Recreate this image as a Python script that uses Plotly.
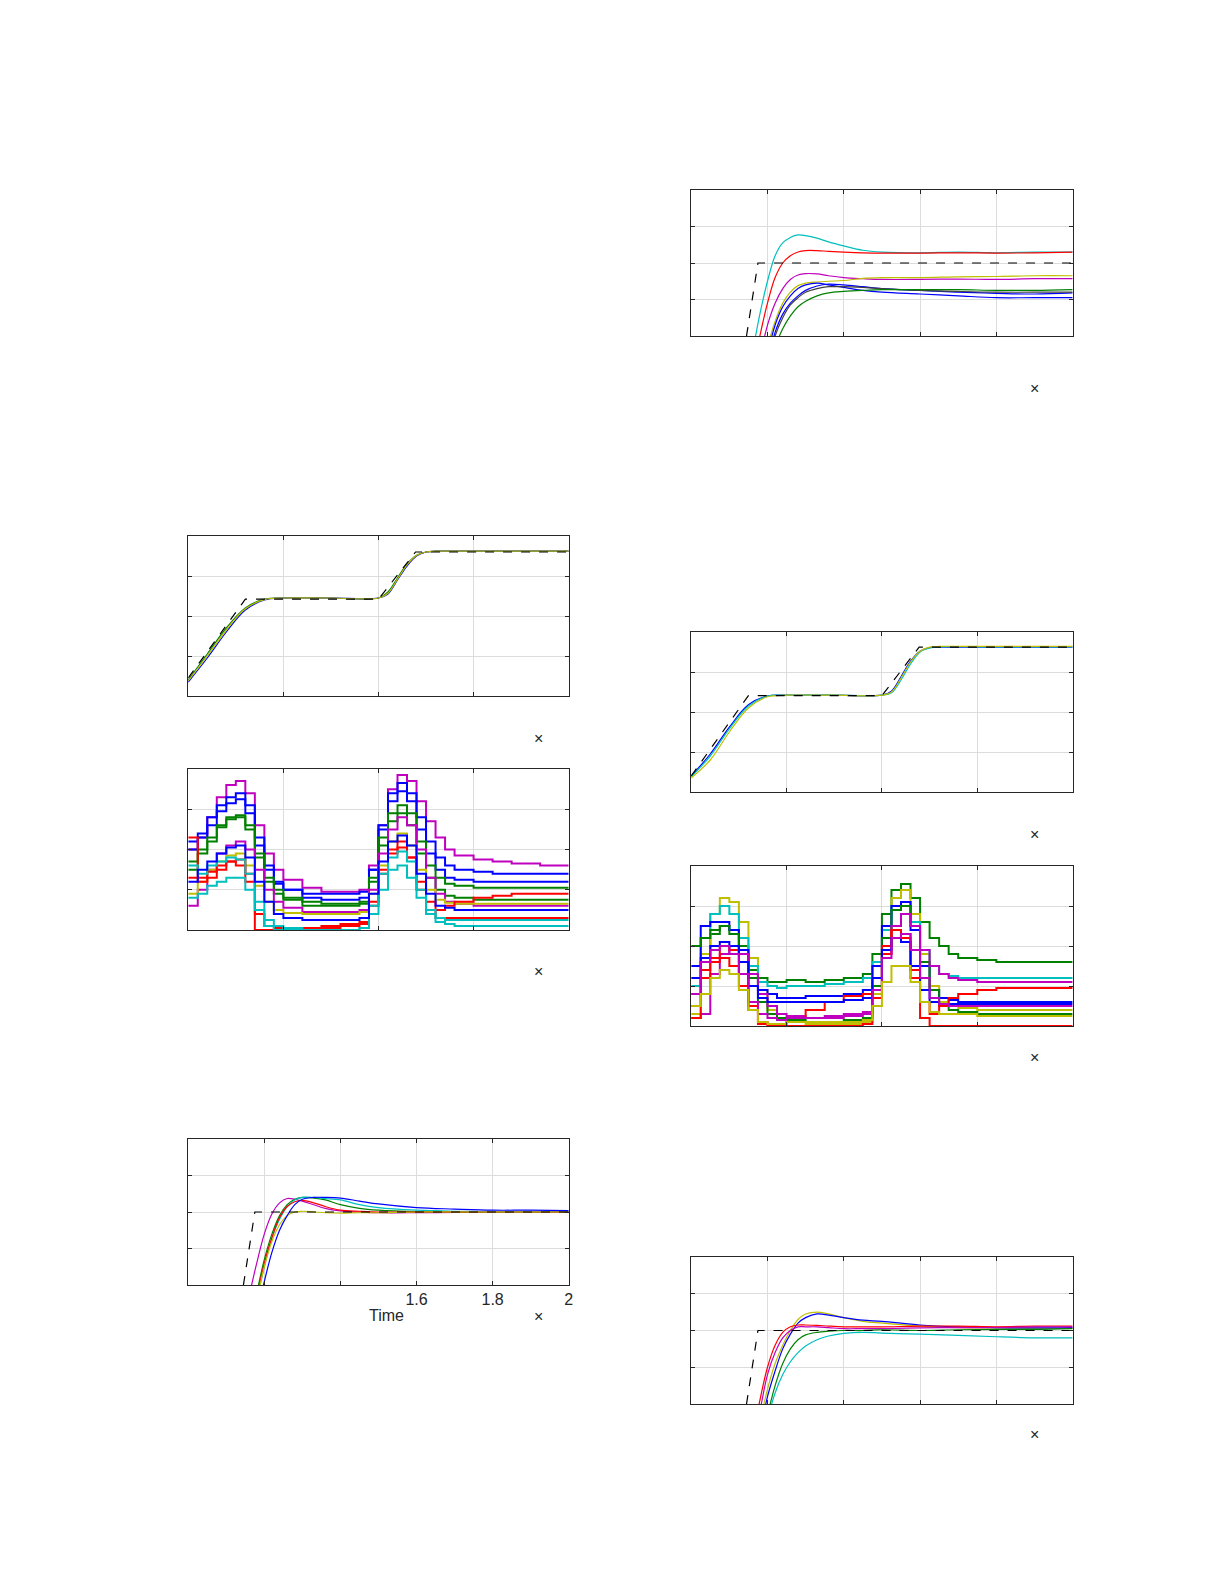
import plotly.graph_objects as go

W, H = 1225, 1585

# Colours (MATLAB-ish)
BLUE = "#0000FF"
GREEN = "#008000"
RED = "#FF0000"
CYAN = "#00BFBF"
MAGENTA = "#BF00BF"
YELLOW = "#BFBF00"
GREY = "#404040"

# ---- data -----------------------------------------------------------------
# position tracking panels (left P1, right P5)
X_POS = [0, 0.2, 0.4, 0.6, 0.8, 1.0, 1.5, 2.0, 2.1, 2.2, 2.3, 2.4, 2.5, 2.6, 3.0, 4.0]
REF_POS_X = [0, 0.6, 2.0, 2.39, 4.0]
REF_POS_Y = [0.45, 2.42, 2.42, 3.6, 3.6]
P1_GREEN = [0.4, 1.05, 1.7, 2.2, 2.42, 2.45, 2.45, 2.45, 2.6, 2.95, 3.3, 3.52, 3.6, 3.62, 3.62, 3.62]
P1_BLUE = [0.35, 0.95, 1.6, 2.15, 2.4, 2.45, 2.45, 2.45, 2.55, 2.9, 3.25, 3.5, 3.6, 3.62, 3.62, 3.62]
P1_YELLOW = [0.38, 1.0, 1.65, 2.18, 2.41, 2.45, 2.45, 2.45, 2.57, 2.92, 3.28, 3.51, 3.6, 3.62, 3.62, 3.62]
P5_YELLOW = [0.35, 0.8, 1.5, 2.1, 2.38, 2.42, 2.42, 2.42, 2.5, 2.85, 3.25, 3.52, 3.62, 3.64, 3.64, 3.64]
P5_CYAN = [0.38, 0.9, 1.58, 2.15, 2.4, 2.42, 2.42, 2.42, 2.48, 2.8, 3.2, 3.5, 3.6, 3.63, 3.63, 3.63]
P5_BLUE = [0.4, 0.95, 1.62, 2.18, 2.4, 2.42, 2.42, 2.42, 2.52, 2.88, 3.27, 3.52, 3.61, 3.62, 3.62, 3.62]
P5_REF_Y = [0.4, 2.41, 2.41, 3.62, 3.62]

# stepped control-signal panels (left P2, right P6)
X_STEP = [0, 0.1, 0.2, 0.3, 0.4, 0.5, 0.6, 0.7, 0.8, 0.9, 1.0, 1.2, 1.4, 1.6, 1.8, 1.9,
          2.0, 2.1, 2.2, 2.3, 2.4, 2.5, 2.6, 2.7, 2.8, 3.0, 3.2, 3.4, 3.7, 4.0]
P2_SERIES = [
    (MAGENTA, [2.0, 2.3, 2.8, 3.3, 3.6, 3.7, 3.4, 2.6, 1.9, 1.5, 1.25, 1.05, 0.95, 0.95, 1.0, 1.6, 2.6, 3.5, 3.85, 3.7, 3.2, 2.7, 2.3, 2.0, 1.85, 1.75, 1.7, 1.65, 1.6, 1.6]),
    (BLUE, [2.2, 2.4, 2.8, 3.1, 3.3, 3.4, 3.1, 2.3, 1.6, 1.2, 1.0, 0.8, 0.75, 0.75, 0.8, 1.5, 2.6, 3.4, 3.65, 3.4, 2.8, 2.2, 1.8, 1.6, 1.5, 1.45, 1.4, 1.4, 1.4, 1.4]),
    (BLUE, [2.0, 2.3, 2.6, 2.95, 3.15, 3.25, 2.9, 2.1, 1.5, 1.15, 1.0, 0.9, 0.9, 0.9, 0.95, 1.5, 2.5, 3.2, 3.45, 3.2, 2.5, 1.9, 1.5, 1.3, 1.25, 1.2, 1.2, 1.2, 1.2, 1.2]),
    (GREEN, [1.7, 2.0, 2.3, 2.6, 2.8, 2.85, 2.6, 1.9, 1.3, 1.0, 0.8, 0.7, 0.65, 0.65, 0.7, 1.3, 2.3, 2.9, 3.1, 2.9, 2.2, 1.6, 1.3, 1.15, 1.1, 1.05, 1.05, 1.05, 1.05, 1.05]),
    (GREEN, [1.5, 1.9, 2.2, 2.55, 2.75, 2.8, 2.5, 1.8, 1.2, 0.9, 0.75, 0.6, 0.6, 0.6, 0.65, 1.2, 2.1, 2.7, 2.9, 2.6, 1.9, 1.3, 1.0, 0.85, 0.8, 0.75, 0.75, 0.75, 0.75, 0.75]),
    (MAGENTA, [0.6, 1.0, 1.5, 1.9, 2.1, 2.2, 2.0, 1.5, 1.0, 0.7, 0.55, 0.45, 0.45, 0.45, 0.5, 1.0, 1.9, 2.5, 2.8, 2.6, 2.0, 1.3, 0.9, 0.7, 0.65, 0.6, 0.6, 0.6, 0.6, 0.6]),
    (YELLOW, [0.9, 1.2, 1.5, 1.7, 1.85, 1.9, 1.6, 1.1, 0.7, 0.5, 0.42, 0.4, 0.4, 0.4, 0.45, 0.9, 1.6, 2.2, 2.4, 2.1, 1.5, 1.0, 0.75, 0.68, 0.65, 0.65, 0.65, 0.65, 0.65, 0.65]),
    (RED, [2.3, 1.2, 1.3, 1.5, 1.7, 1.75, 1.4, 0.0, 0.0, 0.0, 0.0, 0.0, 0.05, 0.1, 0.15, 0.7, 1.5, 2.0, 2.2, 1.8, 1.0, 0.5, 0.3, 0.3, 0.3, 0.3, 0.3, 0.3, 0.3, 0.3]),
    (RED, [1.3, 1.3, 1.45, 1.6, 1.7, 1.6, 1.2, 0.4, 0.1, 0.05, 0.05, 0.05, 0.1, 0.15, 0.2, 0.6, 1.4, 1.9, 2.05, 1.8, 1.2, 0.7, 0.5, 0.6, 0.7, 0.8, 0.85, 0.9, 0.9, 0.9]),
    (CYAN, [0.8, 0.9, 1.1, 1.2, 1.3, 1.3, 1.0, 0.5, 0.1, 0.0, 0.0, 0.0, 0.0, 0.0, 0.05, 0.4, 1.0, 1.5, 1.6, 1.3, 0.8, 0.4, 0.2, 0.15, 0.1, 0.1, 0.1, 0.1, 0.1, 0.1]),
    (CYAN, [1.6, 1.4, 1.6, 1.7, 1.8, 1.75, 1.4, 0.7, 0.25, 0.1, 0.05, 0.0, 0.0, 0.0, 0.05, 0.6, 1.4, 1.8, 1.95, 1.7, 1.0, 0.5, 0.3, 0.25, 0.25, 0.25, 0.25, 0.25, 0.25, 0.25]),
    (BLUE, [1.2, 1.5, 1.7, 1.9, 2.05, 2.1, 1.8, 1.2, 0.7, 0.4, 0.3, 0.25, 0.25, 0.25, 0.3, 0.9, 1.7, 2.2, 2.35, 2.1, 1.4, 0.9, 0.6, 0.55, 0.5, 0.5, 0.5, 0.5, 0.5, 0.5]),
]
P6_SERIES = [
    (GREEN, [0.5, 1.6, 2.3, 2.5, 2.4, 2.0, 1.4, 1.2, 1.1, 1.1, 1.15, 1.1, 1.15, 1.2, 1.3, 1.8, 2.8, 3.4, 3.55, 3.2, 2.6, 2.2, 2.0, 1.8, 1.7, 1.65, 1.6, 1.6, 1.6, 1.6]),
    (YELLOW, [0.3, 1.8, 2.8, 3.2, 3.1, 2.6, 1.7, 0.9, 0.4, 0.2, 0.1, 0.05, 0.05, 0.05, 0.1, 0.8, 2.2, 3.2, 3.4, 2.8, 1.8, 1.0, 0.6, 0.5, 0.45, 0.4, 0.4, 0.4, 0.4, 0.4]),
    (CYAN, [1.0, 2.2, 2.8, 3.0, 2.8, 2.2, 1.5, 1.1, 1.0, 0.95, 1.0, 1.0, 1.05, 1.1, 1.2, 1.6, 2.4, 3.0, 3.1, 2.6, 1.9, 1.5, 1.3, 1.25, 1.2, 1.2, 1.2, 1.2, 1.2, 1.2]),
    (BLUE, [1.5, 2.5, 2.6, 2.6, 2.4, 1.9, 1.2, 0.9, 0.8, 0.7, 0.7, 0.75, 0.75, 0.8, 0.9, 1.5, 2.5, 3.0, 3.1, 2.4, 1.5, 0.9, 0.7, 0.65, 0.6, 0.6, 0.6, 0.6, 0.6, 0.6]),
    (GREEN, [2.0, 2.2, 2.4, 2.5, 2.3, 1.8, 1.2, 0.6, 0.3, 0.2, 0.15, 0.1, 0.1, 0.15, 0.2, 1.0, 2.2, 2.9, 3.0, 2.5, 1.6, 0.9, 0.5, 0.4, 0.35, 0.3, 0.3, 0.3, 0.3, 0.3]),
    (MAGENTA, [0.2, 0.3, 1.3, 1.8, 2.0, 1.8, 1.3, 0.8, 0.5, 0.3, 0.25, 0.2, 0.2, 0.25, 0.3, 0.9, 1.8, 2.5, 2.8, 2.5, 1.9, 1.5, 1.3, 1.2, 1.15, 1.1, 1.1, 1.1, 1.1, 1.1]),
    (RED, [0.8, 1.4, 1.6, 1.7, 1.5, 1.0, 0.4, 0.05, 0.0, 0.05, 0.2, 0.4, 0.6, 0.75, 0.8, 1.2, 2.0, 2.4, 2.2, 1.4, 0.6, 0.3, 0.5, 0.7, 0.8, 0.9, 0.95, 0.95, 0.95, 0.95]),
    (RED, [0.2, 1.2, 1.7, 2.0, 1.9, 1.3, 0.5, 0.1, 0.0, 0.0, 0.0, 0.0, 0.0, 0.0, 0.05, 0.7, 1.8, 2.4, 2.3, 1.2, 0.2, 0.0, 0.0, 0.0, 0.0, 0.0, 0.0, 0.0, 0.0, 0.0]),
    (BLUE, [1.2, 1.7, 2.0, 2.1, 2.0, 1.6, 1.0, 0.7, 0.6, 0.6, 0.6, 0.6, 0.6, 0.65, 0.7, 1.2, 1.9, 2.2, 2.1, 1.5, 0.9, 0.6, 0.55, 0.55, 0.55, 0.55, 0.55, 0.55, 0.55, 0.55]),
    (MAGENTA, [0.8, 1.6, 1.9, 2.0, 1.8, 1.3, 0.6, 0.3, 0.2, 0.15, 0.2, 0.2, 0.25, 0.3, 0.35, 0.9, 1.7, 2.2, 2.3, 1.9, 1.2, 0.7, 0.55, 0.5, 0.5, 0.5, 0.5, 0.5, 0.5, 0.5]),
    (YELLOW, [0.5, 0.8, 1.2, 1.4, 1.3, 0.9, 0.4, 0.1, 0.05, 0.05, 0.1, 0.1, 0.1, 0.1, 0.15, 0.5, 1.1, 1.5, 1.5, 1.1, 0.6, 0.35, 0.3, 0.3, 0.3, 0.25, 0.25, 0.25, 0.25, 0.25]),
]

# step-response zoom panels (P3 left, P4 and P7 right), time 1.0 .. 2.0
X_ZOOM = [1.16, 1.18, 1.2, 1.22, 1.24, 1.26, 1.28, 1.3, 1.33, 1.36, 1.4, 1.45, 1.5, 1.6, 1.7, 1.8, 1.9, 2.0]
REF_ZOOM_X = [1.145, 1.175, 2.0]
REF_ZOOM_Y = [0, 2, 2]
P3_SERIES = [
    (MAGENTA, [-0.3, 0.6, 1.4, 1.95, 2.25, 2.37, 2.35, 2.3, 2.2, 2.1, 2.03, 2.0, 1.98, 1.98, 1.99, 2.0, 2.0, 2.0]),
    (GREEN, [-1, -0.2, 0.7, 1.4, 1.9, 2.2, 2.35, 2.4, 2.38, 2.33, 2.2, 2.1, 2.05, 2.01, 2.0, 2.0, 2.0, 2.01]),
    (CYAN, [-1.2, -0.4, 0.5, 1.3, 1.8, 2.15, 2.33, 2.4, 2.4, 2.37, 2.33, 2.2, 2.12, 2.05, 2.02, 2.01, 2.01, 2.02]),
    (RED, [-1.1, -0.3, 0.6, 1.3, 1.85, 2.15, 2.28, 2.32, 2.25, 2.15, 2.05, 2.02, 2.0, 2.0, 2.0, 2.0, 2.0, 2.0]),
    (YELLOW, [-1.2, -0.4, 0.5, 1.2, 1.65, 1.9, 2.0, 2.02, 2.0, 1.98, 1.97, 1.98, 1.98, 2.0, 2.0, 2.0, 2.0, 2.0]),
    (BLUE, [-1.6, -0.8, 0.1, 0.9, 1.5, 1.9, 2.2, 2.35, 2.4, 2.4, 2.38, 2.3, 2.22, 2.12, 2.08, 2.05, 2.05, 2.04]),
]
P4_SERIES = [
    (CYAN, [-0.5, 0.6, 1.5, 2.2, 2.55, 2.7, 2.77, 2.75, 2.68, 2.58, 2.47, 2.35, 2.3, 2.28, 2.3, 2.28, 2.3, 2.3]),
    (RED, [-1, 0, 0.9, 1.6, 2.0, 2.2, 2.3, 2.34, 2.34, 2.32, 2.3, 2.28, 2.27, 2.27, 2.28, 2.27, 2.28, 2.3]),
    (MAGENTA, [-1.6, -0.6, 0.3, 0.9, 1.3, 1.55, 1.67, 1.71, 1.7, 1.65, 1.6, 1.57, 1.55, 1.55, 1.56, 1.55, 1.57, 1.57]),
    (YELLOW, [-2.2, -1.2, -0.3, 0.4, 0.9, 1.2, 1.38, 1.45, 1.48, 1.5, 1.52, 1.58, 1.6, 1.6, 1.62, 1.63, 1.65, 1.65]),
    (BLUE, [-2.5, -1.5, -0.5, 0.3, 0.8, 1.1, 1.3, 1.4, 1.45, 1.4, 1.33, 1.25, 1.2, 1.15, 1.1, 1.05, 1.05, 1.05]),
    (BLUE, [-2.7, -1.7, -0.7, 0.1, 0.6, 0.9, 1.1, 1.25, 1.37, 1.42, 1.4, 1.35, 1.3, 1.25, 1.2, 1.17, 1.15, 1.18]),
    (GREY, [-2.8, -1.8, -0.8, 0, 0.5, 0.85, 1.05, 1.2, 1.3, 1.35, 1.35, 1.33, 1.3, 1.25, 1.22, 1.2, 1.2, 1.2]),
    (GREEN, [-3, -2, -1, -0.3, 0.2, 0.55, 0.8, 0.95, 1.1, 1.18, 1.22, 1.25, 1.27, 1.27, 1.27, 1.25, 1.25, 1.27]),
]
P7_SERIES = [
    (CYAN, [-2, -1.2, -0.4, 0.3, 0.8, 1.15, 1.4, 1.58, 1.75, 1.85, 1.92, 1.95, 1.93, 1.9, 1.87, 1.83, 1.8, 1.8]),
    (YELLOW, [-1.5, -0.5, 0.4, 1.1, 1.6, 2.0, 2.3, 2.45, 2.5, 2.45, 2.35, 2.25, 2.2, 2.12, 2.08, 2.07, 2.06, 2.06]),
    (BLUE, [-1.8, -0.8, 0.2, 0.9, 1.5, 1.9, 2.2, 2.35, 2.45, 2.42, 2.35, 2.28, 2.25, 2.15, 2.1, 2.08, 2.07, 2.08]),
    (RED, [-1, 0.1, 1.0, 1.6, 1.95, 2.1, 2.15, 2.15, 2.14, 2.12, 2.1, 2.1, 2.1, 2.12, 2.12, 2.1, 2.12, 2.12]),
    (MAGENTA, [-1.2, -0.2, 0.8, 1.4, 1.8, 2.0, 2.1, 2.1, 2.1, 2.08, 2.05, 2.05, 2.05, 2.07, 2.08, 2.08, 2.1, 2.1]),
    (GREEN, [-2.2, -1.2, -0.3, 0.5, 1.1, 1.5, 1.75, 1.88, 1.95, 1.98, 2.0, 2.0, 2.02, 2.0, 2.02, 2.03, 2.03, 2.05]),
]

ZOOM_TICKS = [1.2, 1.4, 1.6, 1.8, 2.0]
ZOOM_TICK_TEXT = ["", "", "1.6", "1.8", "2"]

# ---- layout ---------------------------------------------------------------
# panel boxes in pixels: (left, right, top, bottom)
PANELS = [
    (181, 563, 528, 688),    # P1
    (181, 563, 761, 922),    # P2
    (181, 563, 1131, 1277),  # P3
    (686, 1069, 182, 328),   # P4
    (686, 1069, 624, 784),   # P5
    (686, 1069, 858, 1018),  # P6
    (686, 1069, 1249, 1396), # P7
]
X_MARKS = [(533, 730), (533, 963), (533, 1319), (1037, 370), (1037, 827), (1037, 1060), (1037, 1437)]

fig = go.Figure()
layout = {}


def add_axes(i, box, xrange, dtick, ticklabels=False):
    l, r, t, b = box
    sx = "" if i == 1 else str(i)
    common = dict(showline=True, linecolor="#262626", linewidth=1, mirror="ticks",
                  ticks="inside", ticklen=4, tickcolor="#262626",
                  showgrid=True, gridcolor="#DCDCDC", gridwidth=1, zeroline=False)
    xa = dict(common, domain=[l / W, r / W], range=xrange, anchor="y" + sx,
              dtick=dtick, tick0=xrange[0], showticklabels=False)
    if ticklabels:
        xa.update(tickmode="array", tickvals=ZOOM_TICKS, ticktext=ZOOM_TICK_TEXT,
                  showticklabels=True, tickfont=dict(size=16, color="#262626"))
    ya = dict(common, domain=[1 - b / H, 1 - t / H], range=[0, 4], dtick=1,
              anchor="x" + sx, showticklabels=False)
    layout["xaxis" + sx] = xa
    layout["yaxis" + sx] = ya
    return "x" + sx, "y" + sx


def line(xa, ya, x, y, color, width=1.2, shape="spline", dash="solid"):
    fig.add_trace(go.Scatter(x=x, y=y, xaxis=xa, yaxis=ya, mode="lines",
                             line=dict(color=color, width=width, shape=shape, dash=dash),
                             showlegend=False, hoverinfo="skip"))


# P1 position tracking (left)
xa, ya = add_axes(1, PANELS[0], [0, 4], 1)
for c, ys in [(GREEN, P1_GREEN), (BLUE, P1_BLUE), (YELLOW, P1_YELLOW)]:
    line(xa, ya, X_POS, ys, c)
line(xa, ya, REF_POS_X, REF_POS_Y, "black", shape="linear", dash="dash")

# P2 control signals (left)
xa, ya = add_axes(2, PANELS[1], [0, 4], 1)
for c, ys in P2_SERIES:
    line(xa, ya, X_STEP, ys, c, width=2, shape="hv")

# P3 zoomed response (left)
xa, ya = add_axes(3, PANELS[2], [1.0, 2.0], 0.2, ticklabels=True)
for c, ys in P3_SERIES:
    line(xa, ya, X_ZOOM, ys, c)
line(xa, ya, REF_ZOOM_X, REF_ZOOM_Y, "black", shape="linear", dash="dash")

# P4 zoomed response (right top)
xa, ya = add_axes(4, PANELS[3], [1.0, 2.0], 0.2)
for c, ys in P4_SERIES:
    line(xa, ya, X_ZOOM, ys, c)
line(xa, ya, REF_ZOOM_X, REF_ZOOM_Y, "black", shape="linear", dash="dash")

# P5 position tracking (right)
xa, ya = add_axes(5, PANELS[4], [0, 4], 1)
for c, ys in [(BLUE, P5_BLUE), (CYAN, P5_CYAN), (YELLOW, P5_YELLOW)]:
    line(xa, ya, X_POS, ys, c)
line(xa, ya, REF_POS_X, P5_REF_Y, "black", shape="linear", dash="dash")

# P6 control signals (right)
xa, ya = add_axes(6, PANELS[5], [0, 4], 1)
for c, ys in P6_SERIES:
    line(xa, ya, X_STEP, ys, c, width=2, shape="hv")

# P7 zoomed response (right bottom)
xa, ya = add_axes(7, PANELS[6], [1.0, 2.0], 0.2)
for c, ys in P7_SERIES:
    line(xa, ya, X_ZOOM, ys, c)
line(xa, ya, REF_ZOOM_X, REF_ZOOM_Y, "black", shape="linear", dash="dash")

annotations = [dict(x=px / W, y=1 - py / H, xref="paper", yref="paper", text="×",
                    showarrow=False, font=dict(size=16, color="#262626"))
               for px, py in X_MARKS]
annotations.append(dict(x=360 / W, y=1 - 1318 / H, xref="paper", yref="paper", text="Time",
                        showarrow=False, font=dict(size=16, color="#262626")))

fig.update_layout(**layout)
fig.update_layout(
    width=W, height=H, margin=dict(l=0, r=0, t=0, b=0),
    paper_bgcolor="white", plot_bgcolor="white",
    font=dict(family="Liberation Sans, Arial, sans-serif"),
    annotations=annotations,
    shapes=[dict(type="line", xref="paper", yref="paper", x0=2 / W, x1=16 / W,
                 y0=1 - 1583 / H, y1=1 - 1583 / H, line=dict(color="#201030", width=2))],
)

fig.write_html("out.html")
